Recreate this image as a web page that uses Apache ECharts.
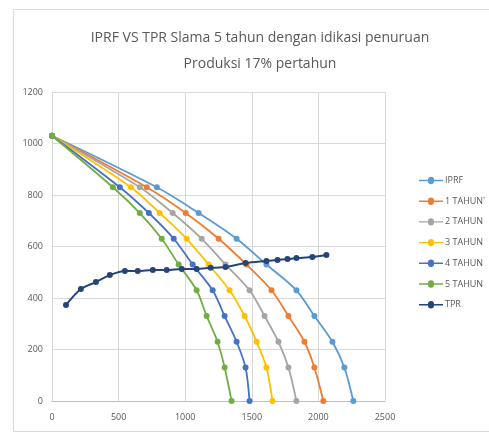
<!DOCTYPE html>
<html>
<head>
<meta charset="utf-8">
<script src="https://cdn.jsdelivr.net/npm/echarts@6/dist/echarts.min.js"></script>
<style>
  html, body { margin: 0; padding: 0; background: #fff; }
  #chart { width: 489px; height: 433px; }
</style>
</head>
<body>
<div id="chart"></div>
<script>
// Flowing bottom-hole pressure levels shared by every inflow curve (psi)
const pwfLevels = [1030, 830, 730, 630, 530, 430, 330, 230, 130, 0];

// Inflow performance rates at each pressure level (bbl/d)
const qIPRF   = [0, 787, 1101, 1386, 1610, 1835, 1970, 2105, 2195, 2262];
const qTahun1 = [0, 712, 1004, 1251, 1460, 1648, 1775, 1895, 1970, 2037];
const qTahun2 = [0, 659, 906, 1124, 1303, 1483, 1596, 1700, 1775, 1835];
const qTahun3 = [0, 592, 809, 1011, 1176, 1333, 1446, 1536, 1610, 1655];
const qTahun4 = [0, 509, 727, 914, 1056, 1206, 1296, 1386, 1453, 1483];
const qTahun5 = [0, 457, 659, 824, 951, 1086, 1161, 1243, 1296, 1348];

// Tubing performance relationship
const tprRate = [105, 217, 330, 434, 547, 644, 757, 861, 974, 1086, 1191, 1303, 1453, 1610, 1693, 1768, 1835, 1955, 2060];
const tprPwf  = [373, 435, 462, 489, 505, 505, 509, 509, 513, 513, 517, 520, 536, 544, 548, 551, 555, 559, 567];

const seriesNames = ['IPRF', '1 TAHUN\'', '2 TAHUN', '3 TAHUN', '4 TAHUN', '5 TAHUN', 'TPR'];
const seriesColors = ['#5B9BD5', '#ED7D31', '#A5A5A5', '#FFC000', '#4472C4', '#70AD47', '#264478'];

const xTicks = { min: 0, max: 2500, interval: 500 };
const yTicks = { min: 0, max: 1200, interval: 200 };

function pairs(xs, ys) {
  return xs.map((x, i) => [x, ys[i]]);
}

const curveRates = [qIPRF, qTahun1, qTahun2, qTahun3, qTahun4, qTahun5];
const series = curveRates.map((rates, i) => ({
  name: seriesNames[i],
  type: 'line',
  smooth: 0.3,
  data: pairs(rates, pwfLevels),
  symbol: 'circle',
  symbolSize: 6,
  lineStyle: { width: 1.8, color: seriesColors[i] },
  itemStyle: { color: seriesColors[i] },
  z: 2
}));
series.push({
  name: seriesNames[6],
  type: 'line',
  smooth: 0.3,
  data: pairs(tprRate, tprPwf),
  symbol: 'circle',
  symbolSize: 6,
  lineStyle: { width: 2, color: seriesColors[6] },
  itemStyle: { color: seriesColors[6] },
  z: 3
});

const plainNumber = v => String(v);

const chart = echarts.init(document.getElementById('chart'), null, { renderer: 'canvas' });
chart.setOption({
  animation: false,
  backgroundColor: '#ffffff',
  color: seriesColors,
  title: {
    text: 'IPRF VS TPR Slama 5 tahun dengan idikasi penuruan\nProduksi 17% pertahun',
    left: 255,
    textAlign: 'center',
    top: 20,
    textStyle: {
      fontFamily: 'Open Sans',
      fontSize: 14,
      fontWeight: 'normal',
      color: '#595959',
      lineHeight: 26
    }
  },
  graphic: [{
    type: 'rect',
    shape: { x: 13.5, y: 9.5, width: 490, height: 422 },
    style: { fill: 'none', stroke: '#D9D9D9', lineWidth: 1 },
    silent: true,
    z: -1
  }],
  legend: {
    orient: 'vertical',
    left: 414,
    top: 171,
    itemGap: 11.7,
    itemWidth: 24,
    itemHeight: 14,
    textStyle: { fontFamily: 'Open Sans', fontSize: 9, color: '#595959', padding: [0, 0, 0, -3] },
    data: seriesNames.map(n => ({ name: n, icon: 'path://M0,6.3 L9,6.3 A3,3 0 0 1 15,6.3 L24,6.3 L24,7.7 L15,7.7 A3,3 0 0 1 9,7.7 L0,7.7 Z' }))
  },
  grid: { left: 52, right: 104, top: 92, bottom: 32 },
  xAxis: {
    type: 'value',
    min: xTicks.min, max: xTicks.max, interval: xTicks.interval,
    axisLine: { show: true, onZero: true, lineStyle: { color: '#BFBFBF' } },
    axisTick: { show: false },
    splitLine: { show: true, lineStyle: { color: '#D9D9D9' } },
    axisLabel: { fontFamily: 'Open Sans', fontSize: 9, color: '#595959', margin: 12, formatter: plainNumber }
  },
  yAxis: {
    type: 'value',
    min: yTicks.min, max: yTicks.max, interval: yTicks.interval,
    axisLine: { show: false },
    axisTick: { show: false },
    splitLine: { show: true, lineStyle: { color: '#D9D9D9' } },
    axisLabel: { fontFamily: 'Open Sans', fontSize: 9, color: '#595959', margin: 9, formatter: plainNumber }
  },
  series: series
});
</script>
</body>
</html>
